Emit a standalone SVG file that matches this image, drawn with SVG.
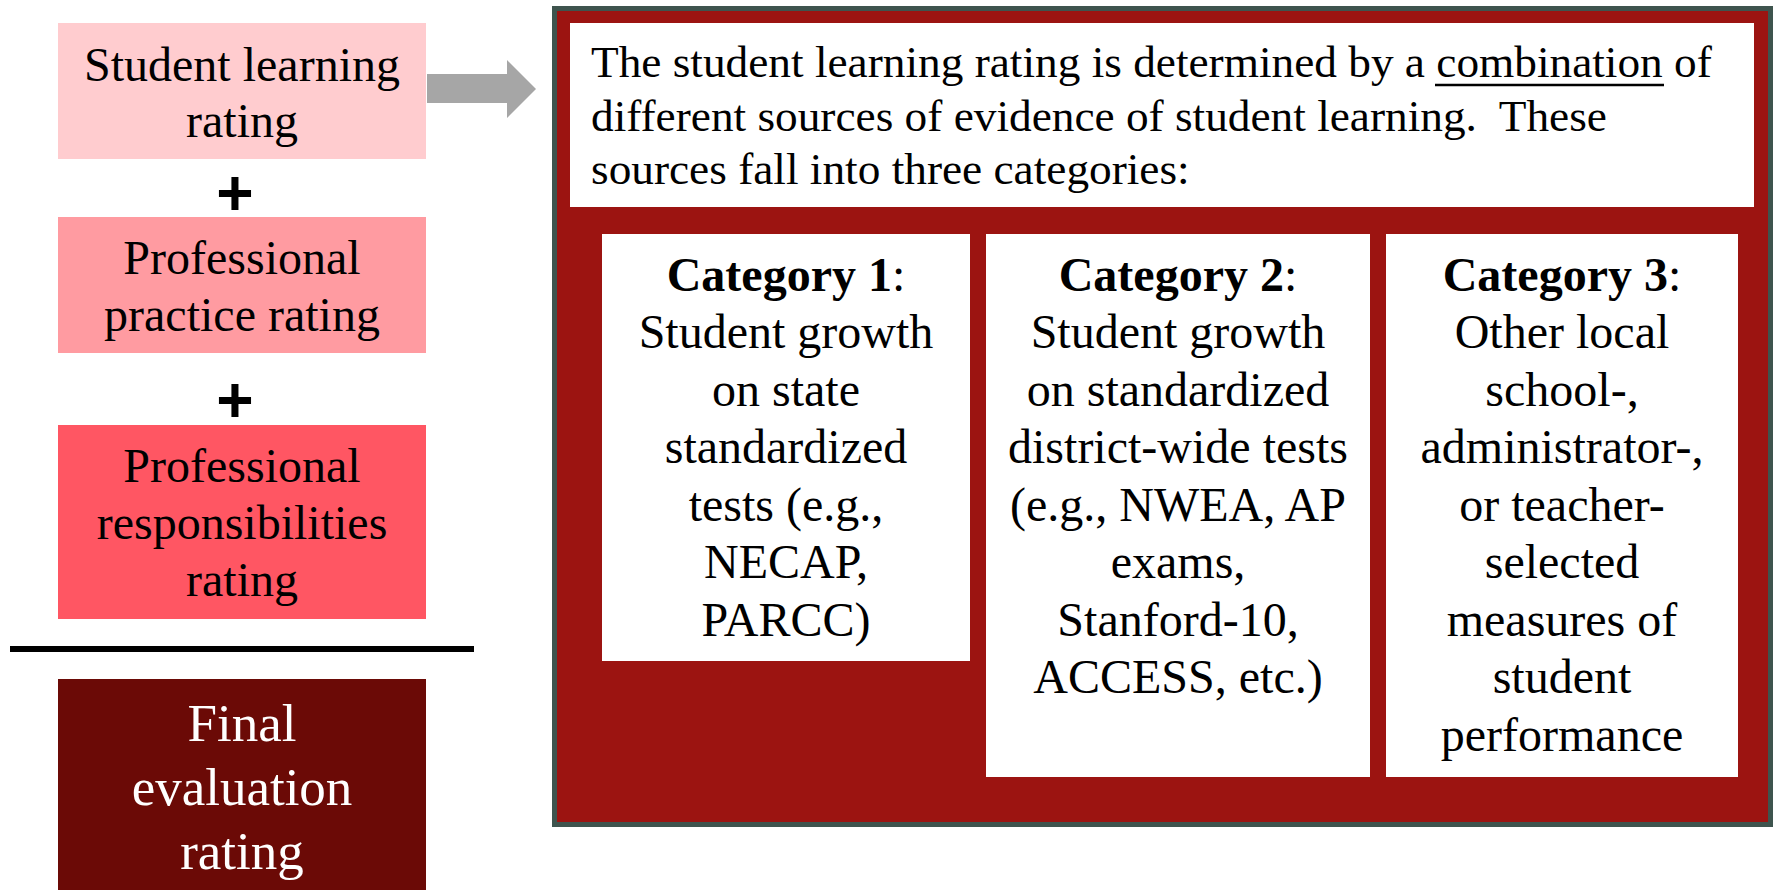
<svg xmlns="http://www.w3.org/2000/svg" width="1773" height="890" viewBox="0 0 1773 890">
<style>
  text { font-family: "Liberation Serif", "Times New Roman", serif; fill: #000; }
  .lbl { font-size: 48px; text-anchor: middle; }
  .main { font-size: 45.3px; }
  .cat { font-size: 48px; text-anchor: middle; }
  .b { font-weight: bold; }
  .plus { font-family: "Liberation Sans", Arial, sans-serif; font-weight: bold; font-size: 64px; text-anchor: middle; }
  .final { font-size: 53px; text-anchor: middle; fill: #ffffff; }
  .white { fill: #ffffff; }
</style>
<rect width="1773" height="890" fill="#ffffff"/>

<g id="student-learning">
  <rect x="58" y="23" width="368" height="136" fill="#ffcccf"/>
  <text class="lbl" x="242" y="81">Student learning</text>
  <text class="lbl" x="242" y="137">rating</text>
</g>

<g id="plus-1"><text class="plus" x="235" y="215">+</text></g>

<g id="professional-practice">
  <rect x="58" y="217" width="368" height="136" fill="#ff9ba1"/>
  <text class="lbl" x="242" y="274">Professional</text>
  <text class="lbl" x="242" y="331">practice rating</text>
</g>

<g id="plus-2"><text class="plus" x="235" y="422">+</text></g>

<g id="professional-responsibilities">
  <rect x="58" y="425" width="368" height="194" fill="#ff5663"/>
  <text class="lbl" x="242" y="482">Professional</text>
  <text class="lbl" x="242" y="539">responsibilities</text>
  <text class="lbl" x="242" y="596">rating</text>
</g>

<g id="divider">
  <line x1="10" y1="649" x2="474" y2="649" stroke="#000" stroke-width="6"/>
</g>

<g id="final-rating">
  <rect x="58" y="679" width="368" height="211" fill="#6b0a06"/>
  <text class="final" x="242" y="741">Final</text>
  <text class="final" x="242" y="805">evaluation</text>
  <text class="final" x="242" y="869">rating</text>
</g>

<g id="connectors">
  <polygon points="427,74 507,74 507,60 536,89 507,118 507,103 427,103" fill="#a6a6a6"/>
</g>

<g id="learning-panel">
  <rect x="554.5" y="8.5" width="1216" height="816" fill="#9c1411" stroke="#3e544e" stroke-width="5"/>
  <rect x="570" y="23" width="1184" height="184" fill="#ffffff"/>
  <text class="main" x="591" y="77">The student learning rating is determined by a combination of</text>
  <line x1="1435" y1="85" x2="1664" y2="85" stroke="#000" stroke-width="2.5"/>
  <text class="main" x="591" y="130.5">different sources of evidence of student learning.&#160; These</text>
  <text class="main" x="591" y="184">sources fall into three categories:</text>
</g>

<g id="category-1">
  <rect x="602" y="234" width="368" height="427" fill="#ffffff"/>
  <text class="cat" x="786" y="291"><tspan class="b">Category 1</tspan>:</text>
  <text class="cat" x="786" y="348">Student growth</text>
  <text class="cat" x="786" y="406">on state</text>
  <text class="cat" x="786" y="463">standardized</text>
  <text class="cat" x="786" y="521">tests (e.g.,</text>
  <text class="cat" x="786" y="578">NECAP,</text>
  <text class="cat" x="786" y="636">PARCC)</text>
</g>

<g id="category-2">
  <rect x="986" y="234" width="384" height="543" fill="#ffffff"/>
  <text class="cat" x="1178" y="291"><tspan class="b">Category 2</tspan>:</text>
  <text class="cat" x="1178" y="348">Student growth</text>
  <text class="cat" x="1178" y="406">on standardized</text>
  <text class="cat" x="1178" y="463">district-wide tests</text>
  <text class="cat" x="1178" y="521">(e.g., NWEA, AP</text>
  <text class="cat" x="1178" y="578">exams,</text>
  <text class="cat" x="1178" y="636">Stanford-10,</text>
  <text class="cat" x="1178" y="693">ACCESS, etc.)</text>
</g>

<g id="category-3">
  <rect x="1386" y="234" width="352" height="543" fill="#ffffff"/>
  <text class="cat" x="1562" y="291"><tspan class="b">Category 3</tspan>:</text>
  <text class="cat" x="1562" y="348">Other local</text>
  <text class="cat" x="1562" y="406">school-,</text>
  <text class="cat" x="1562" y="463">administrator-,</text>
  <text class="cat" x="1562" y="521">or teacher-</text>
  <text class="cat" x="1562" y="578">selected</text>
  <text class="cat" x="1562" y="636">measures of</text>
  <text class="cat" x="1562" y="693">student</text>
  <text class="cat" x="1562" y="751">performance</text>
</g>
</svg>
